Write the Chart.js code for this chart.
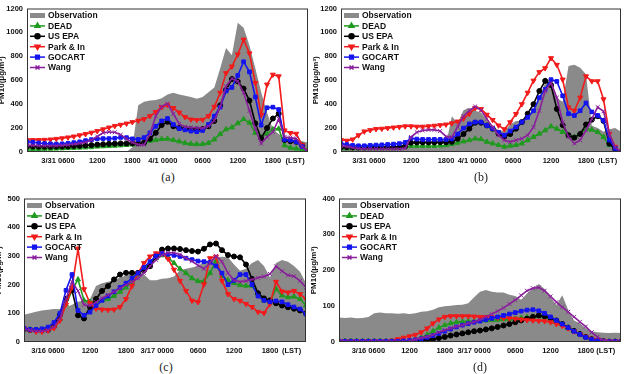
<!DOCTYPE html>
<html>
<head>
<meta charset="utf-8">
<script src="https://cdn.jsdelivr.net/npm/chart.js@4.4.1/dist/chart.umd.min.js"></script>
<style>
  html, body { margin: 0; padding: 0; background: #fff; }
  body { width: 624px; height: 374px; position: relative; overflow: hidden; }
  .panel { position: absolute; }
  .cap { position: absolute; width: 40px; text-align: center; font-family: "Liberation Serif", "DejaVu Serif", serif; font-size: 12px; color: #222; }
</style>
</head>
<body>
<div class="panel" style="left:-3px;top:0px;width:316px;height:170px"><canvas id="chartA"></canvas></div>
<div class="panel" style="left:311px;top:0px;width:315px;height:170px"><canvas id="chartB"></canvas></div>
<div class="panel" style="left:-6px;top:190px;width:317px;height:170px"><canvas id="chartC"></canvas></div>
<div class="panel" style="left:309px;top:190px;width:317px;height:170px"><canvas id="chartD"></canvas></div>
<div class="cap" style="left:148px;top:170px">(a)</div>
<div class="cap" style="left:461px;top:170px">(b)</div>
<div class="cap" style="left:146px;top:360px">(c)</div>
<div class="cap" style="left:460px;top:360px">(d)</div>
<script>
// hourly time axis (hours from start of each episode)
var hoursAB = Array.from({length: 49}, function (_, i) { return i; });
var hoursC = Array.from({length: 48}, function (_, i) { return i + 1; });
var hoursD = Array.from({length: 49}, function (_, i) { return i; });

var seriesNames = ['Observation', 'DEAD', 'US EPA', 'Park & In', 'GOCART', 'Wang'];

// ---- (a) ----
var obsA = [0,0,0,0,0,0,0,0,0,0,0,0,0,0,0,0,0,0,40,390,420,430,435,450,480,495,480,470,460,445,460,500,540,700,870,810,1080,1040,890,700,500,330,190,150,120,110,100,90,80];
var deadA = [25,25,25,26,27,28,30,32,34,36,38,40,45,47,49,52,55,58,62,68,80,92,100,108,110,100,88,75,68,65,66,75,105,150,190,205,240,275,245,160,125,150,190,195,55,35,28,18,0];
var epaA = [45,45,44,44,44,45,45,47,50,52,55,58,62,65,68,70,72,72,72,72,78,110,160,225,252,215,200,195,190,188,192,215,260,390,520,610,590,530,430,240,115,200,280,320,100,90,85,55,0];
var parkA = [100,100,100,102,105,110,115,122,130,140,150,162,175,190,205,218,228,238,250,262,275,300,335,375,392,368,330,292,272,268,270,300,378,496,660,715,816,940,825,578,310,564,647,633,181,159,153,58,0];
var gocartA = [85,82,75,70,68,66,68,72,78,85,95,103,110,112,112,115,122,120,110,105,120,160,215,260,280,230,195,185,175,170,180,230,300,375,510,540,640,755,670,460,225,370,375,355,105,100,85,45,0];
var wangA = [55,55,52,52,52,52,55,60,65,72,82,100,130,160,167,165,145,110,80,62,60,150,300,380,405,320,235,210,205,203,200,214,263,378,550,614,592,496,345,195,71,126,167,277,126,120,112,44,0];

// ---- (b) ----
var obsB = [35,35,35,35,35,35,35,35,35,35,35,35,35,35,35,35,35,35,60,300,240,350,370,345,330,270,215,185,175,230,260,260,300,340,450,580,620,450,420,720,730,705,650,220,200,170,190,200,170];
var deadB = [30,30,30,30,30,30,30,30,30,30,32,45,50,50,50,50,50,52,57,65,77,88,99,112,107,85,71,58,44,52,58,71,99,126,153,181,214,195,167,140,126,153,195,186,167,126,58,30,0];
var epaB = [40,40,38,38,38,40,40,40,42,42,45,50,78,80,80,80,80,82,82,85,110,150,195,245,245,222,195,155,128,150,195,250,320,400,510,595,560,360,225,140,120,150,230,270,300,260,70,25,0];
var parkB = [100,95,105,140,172,183,192,195,200,205,210,215,215,212,212,215,220,225,230,240,255,280,320,367,359,312,268,222,190,249,318,400,496,597,668,701,785,729,606,373,345,455,633,592,592,441,153,44,0];
var gocartB = [70,62,55,52,52,55,58,60,63,66,70,80,115,108,105,105,105,105,105,110,150,200,235,250,250,222,195,165,140,175,208,250,290,345,455,525,605,590,470,320,305,345,410,335,305,265,100,30,0];
var wangB = [50,45,35,28,25,25,25,25,25,25,25,30,125,165,180,185,185,175,130,125,210,300,345,380,350,277,208,140,99,85,99,112,140,208,345,510,578,455,249,126,71,99,181,277,375,340,150,40,0];

// ---- (c) ----
var obsC = [95,100,105,110,112,115,115,120,130,140,145,150,195,205,210,215,225,232,240,245,235,215,215,220,222,228,250,255,260,265,280,285,295,297,295,270,248,255,275,286,265,225,275,286,280,265,245,205];
var deadC = [45,45,43,43,45,55,80,130,180,218,145,140,140,145,150,160,175,190,210,235,255,275,292,302,295,275,255,240,222,212,212,240,282,230,215,205,198,196,196,167,144,140,185,162,156,158,150,127];
var epaC = [45,42,40,40,42,55,95,150,180,93,82,122,150,178,195,218,235,241,241,241,250,264,300,322,326,326,324,320,317,315,325,340,343,320,303,298,295,270,220,170,152,145,135,127,121,116,110,100];
var parkC = [48,42,36,36,40,48,75,130,190,325,184,135,116,113,112,113,122,150,195,240,275,298,309,310,290,252,213,178,144,139,201,292,297,213,167,150,144,133,122,105,101,133,210,176,173,178,167,150];
var gocartC = [48,44,44,46,52,68,100,180,235,110,93,104,127,145,160,175,190,205,222,240,260,280,300,308,306,302,298,292,287,282,280,278,265,240,200,215,235,235,200,160,145,140,143,140,130,122,115,97];
var wangC = [44,42,38,38,42,53,82,150,210,178,130,127,139,153,164,175,187,199,210,222,241,264,286,303,311,311,305,292,281,267,255,275,300,280,240,215,210,213,218,224,228,237,264,247,233,229,213,190];

// ---- (d) ----
var obsD = [68,67,68,66,67,70,80,82,80,80,79,80,78,80,84,86,90,97,100,101,103,104,108,125,140,145,140,138,138,132,128,118,135,150,162,148,125,103,130,90,60,52,38,30,27,26,25,26,25];
var deadD = [2,2,2,2,2,2,2,2,2,2,2,2,3,7,12,20,30,40,47,52,55,57,58,58,59,60,61,62,63,64,65,67,69,71,72,70,65,58,50,40,31,22,14,8,4,2,1,1,1];
var epaD = [1,1,1,1,1,1,1,1,1,1,1,1,1,2,4,6,8,11,14,18,21,24,27,30,32,35,38,42,46,50,55,60,65,70,74,72,67,60,50,40,31,22,14,8,4,2,1,1,1];
var parkD = [2,2,2,2,2,2,2,2,2,4,8,12,16,20,27,38,52,63,70,72,72,72,72,71,70,70,69,68,67,66,65,63,61,60,59,58,55,50,45,38,30,22,15,9,5,3,2,1,1];
var gocartD = [2,2,2,2,2,2,2,2,2,2,2,3,4,6,9,13,18,24,30,36,42,47,51,55,58,62,66,70,74,78,82,86,89,90,87,80,70,60,50,40,30,21,13,7,3,2,1,1,1];
var wangD = [1,1,1,1,1,1,1,1,1,1,1,1,3,7,11,15,20,27,33,38,43,47,52,56,62,70,78,86,95,106,117,130,143,150,152,143,127,111,97,84,70,56,43,27,14,5,2,1,1];

// x tick positions and labels
var ticksA = [5.3, 12, 18, 23.2, 30, 36, 42, 45.8];
var labelsA = ['3/31 0600', '1200', '1800', '4/1 0000', '0600', '1200', '1800', '(LST)'];
var ticksB = [4.8, 12, 18, 22.5, 29.5, 36, 42, 45.7];
var labelsB = ['3/31 0600', '1200', '1800', '4/1 0000', '0600', '1200', '1800', '(LST)'];
var ticksC = [5, 12, 18, 23.2, 30, 36, 42, 45.6];
var labelsC = ['3/16 0600', '1200', '1800', '3/17 0000', '0600', '1200', '1800', '(LST)'];
var ticksD = [5, 12, 18, 23, 30, 36, 42, 45.4];
var labelsD = ['3/16 0600', '1200', '1800', '3/17 0000', '0600', '1200', '1800', '(LST)'];

var narrow = '"Liberation Sans Narrow", "Liberation Sans", Arial, sans-serif';
var obsColor = '#8a8a8a';
var styles = [
    null,
    {color: '#1f9a1f', point: 'triangle', rot: 0, r: 2.9},
    {color: '#000000', point: 'circle', rot: 0, r: 2.5},
    {color: '#f21a1a', point: 'triangle', rot: 180, r: 2.9},
    {color: '#1414f0', point: 'rect', rot: 0, r: 2.6},
    {color: '#8a1f9c', point: 'crossRot', rot: 0, r: 2.8}
];

var boxLegend = {
    id: 'boxLegend',
    afterDraw: function (chart) {
        var ctx = chart.ctx, area = chart.chartArea;
        var x = area.left + 3, y0 = area.top + 7;
        ctx.save();
        // frame
        ctx.strokeStyle = '#333';
        ctx.lineWidth = 1;
        ctx.strokeRect(area.left + 0.5, area.top + 0.5, area.right - area.left - 1, area.bottom - area.top - 1);
        ctx.font = 'bold 8.5px ' + narrow;
        ctx.textBaseline = 'middle';
        chart.data.datasets.forEach(function (ds, i) {
            var y = y0 + i * 10.4;
            if (ds.fill) {
                ctx.fillStyle = obsColor;
                ctx.fillRect(x, y - 2.5, 15, 5);
            } else {
                ctx.strokeStyle = ds.borderColor;
                ctx.lineWidth = 1.5;
                ctx.beginPath();
                ctx.moveTo(x, y);
                ctx.lineTo(x + 15, y);
                ctx.stroke();
                ctx.fillStyle = ds.borderColor;
                Chart.helpers.drawPoint(ctx, {pointStyle: ds.pointStyle, radius: ds.pointRadius, rotation: ds.pointRotation, borderWidth: 1}, x + 7.5, y);
            }
            ctx.fillStyle = '#111';
            ctx.fillText(ds.label, x + 18, y + 0.5);
        });
        ctx.restore();
    }
};

function makePanel(id, hours, values, yMax, yStep, xMin, tickVals, tickLabels) {
    var datasets = values.map(function (vals, i) {
        var pts = hours.map(function (h, k) { return {x: h, y: vals[k]}; });
        if (i === 0) {
            return {label: seriesNames[0], data: pts, fill: 'origin', backgroundColor: obsColor,
                borderWidth: 0, pointRadius: 0, order: 10};
        }
        var s = styles[i];
        return {
            label: seriesNames[i], data: pts, fill: false,
            borderColor: s.color, backgroundColor: s.color,
            pointBackgroundColor: s.color, pointBorderColor: s.color,
            pointStyle: s.point, pointRotation: s.rot, pointRadius: s.r, pointBorderWidth: 1,
            borderWidth: 1.6, tension: 0, order: 6 - i
        };
    });
    var tickFont = {family: narrow, size: 7.5, weight: 'bold'};
    return new Chart(document.getElementById(id), {
        type: 'line',
        data: {datasets: datasets},
        options: {
            responsive: true,
            maintainAspectRatio: false,
            animation: false,
            layout: {padding: {top: 6, right: 4, left: 0, bottom: 0}},
            plugins: {legend: {display: false}, tooltip: {enabled: false}},
            scales: {
                x: {
                    type: 'linear', min: xMin, max: 48,
                    grid: {display: false, drawTicks: false},
                    border: {display: false},
                    afterBuildTicks: function (s) {
                        s.ticks = tickVals.map(function (v) { return {value: v}; });
                    },
                    ticks: {
                        autoSkip: false, maxRotation: 0, padding: 4, font: tickFont, color: '#111',
                        callback: function (v) { return tickLabels[tickVals.indexOf(v)]; }
                    },
                    afterFit: function (s) { s.height = 18; }
                },
                y: {
                    min: 0, max: yMax,
                    grid: {display: false, drawTicks: false},
                    border: {display: false},
                    ticks: {stepSize: yStep, padding: 4, font: tickFont, color: '#111',
                        callback: function (v) { return String(v); }},
                    title: {display: true, text: 'PM10(μg/m³)', color: '#111', padding: 0,
                        font: {family: narrow, size: 8, weight: 'bold'}},
                    afterFit: function (s) { s.width = 30; }
                }
            }
        },
        plugins: [boxLegend]
    });
}

makePanel('chartA', hoursAB, [obsA, deadA, epaA, parkA, gocartA, wangA], 1200, 200, 0, ticksA, labelsA);
makePanel('chartB', hoursAB, [obsB, deadB, epaB, parkB, gocartB, wangB], 1200, 200, 0, ticksB, labelsB);
makePanel('chartC', hoursC, [obsC, deadC, epaC, parkC, gocartC, wangC], 500, 100, 1, ticksC, labelsC);
makePanel('chartD', hoursD, [obsD, deadD, epaD, parkD, gocartD, wangD], 400, 100, 0, ticksD, labelsD);
</script>
</body>
</html>
